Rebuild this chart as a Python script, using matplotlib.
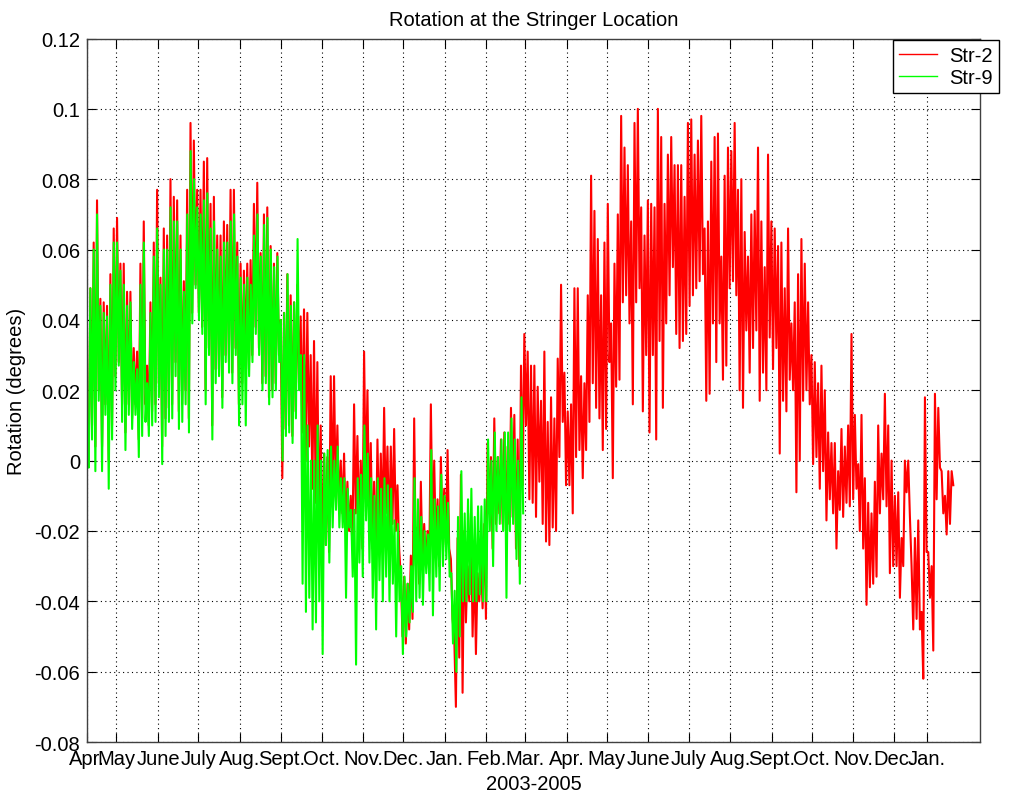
import numpy as np
import matplotlib
matplotlib.use('Agg')
import matplotlib.pyplot as plt

plt.rcParams['font.family'] = ['Liberation Sans', 'DejaVu Sans']

# stringer rotation (deg), logged from 9 Apr 2003; consecutive values are the
# daily high / low swings of the gauge
str2_days = (0.0, 646.5)
str9_days = (0.0, 325.5)

str2 = [
    0.004, 0.000, 0.049, 0.010, 0.062, 0.004, 0.074, 0.020, 0.046, 0.004,
    0.045, 0.016, 0.044, 0.000, 0.053, 0.010, 0.066, 0.024, 0.069, 0.028,
    0.056, 0.016, 0.056, 0.008, 0.048, 0.016, 0.048, 0.012, 0.032, 0.016,
    0.031, 0.006, 0.056, 0.012, 0.068, 0.016, 0.027, 0.010, 0.045, 0.014,
    0.062, 0.016, 0.077, 0.022, 0.052, 0.004, 0.066, 0.012, 0.064, 0.015,
    0.080, 0.016, 0.075, 0.028, 0.074, 0.014, 0.064, 0.016, 0.051, 0.020,
    0.077, 0.012, 0.096, 0.042, 0.091, 0.050, 0.077, 0.042, 0.077, 0.038,
    0.085, 0.020, 0.086, 0.032, 0.073, 0.010, 0.075, 0.026, 0.064, 0.026,
    0.064, 0.018, 0.068, 0.030, 0.067, 0.028, 0.077, 0.025, 0.077, 0.032,
    # Aug - Nov 2003
    0.062, 0.016, 0.056, 0.022, 0.054, 0.030, 0.056, 0.026, 0.057, 0.030,
    0.073, 0.038, 0.079, 0.032, 0.059, 0.022, 0.070, 0.024, 0.072, 0.018,
    0.061, 0.020, 0.056, 0.022, 0.059, 0.030, 0.040, -0.005, 0.042, 0.009,
    0.053, 0.010, 0.047, 0.007, 0.045, 0.014, 0.050, 0.022, 0.041, 0.008,
    0.043, 0.000, 0.042, 0.004, 0.030, -0.008, 0.034, -0.012, 0.028, -0.020,
    0.010, -0.030, 0.002, -0.024, 0.001, -0.026, 0.024, -0.012, 0.024, -0.010,
    0.010, -0.015, 0.000, -0.015, 0.002, -0.020, -0.006, -0.020, -0.010, -0.025,
    0.016, -0.015, 0.007, -0.020, 0.000, -0.025, 0.031, -0.008, 0.020, -0.015,
    0.005, -0.025, -0.006, -0.030, 0.006, -0.020,
    # Nov 2003 - Mar 2004
    0.002, -0.020, 0.015, -0.015, 0.004, -0.022, 0.004, -0.018, 0.009, -0.020,
    -0.007, -0.025, -0.033, -0.050, -0.033, -0.052, -0.035, -0.048, -0.027, -0.045,
    0.012, -0.030, -0.019, -0.035, -0.006, -0.030, -0.018, -0.030, -0.020, -0.032,
    0.016, -0.020, 0.000, -0.025, -0.011, -0.030, 0.001, -0.022, -0.008, -0.024,
    0.003, -0.025, -0.028, -0.045, -0.050, -0.070, -0.022, -0.056, -0.004, -0.066,
    -0.020, -0.046, -0.030, -0.040, -0.015, -0.050, -0.028, -0.055, -0.032, -0.040,
    -0.028, -0.042, -0.018, -0.045, 0.005, -0.015, 0.001, -0.025, 0.012, -0.018,
    0.001, -0.015, 0.006, -0.018, 0.008, -0.020, 0.004, -0.018, 0.015, -0.016,
    0.013, -0.025, 0.006, -0.030, 0.027, -0.007, 0.036, 0.010,
    # Mar - June 2004
    0.031, -0.011, 0.027, -0.012, 0.027, -0.016, 0.021, -0.006, 0.017, -0.018,
    0.031, -0.023, 0.011, -0.024, 0.018, -0.019, 0.012, -0.020, 0.029, 0.001,
    0.050, 0.011, 0.025, -0.007, 0.014, -0.007, 0.016, -0.015, 0.049, 0.001,
    0.049, 0.003, 0.024, -0.005, 0.022, 0.003, 0.047, 0.011, 0.081, 0.022,
    0.071, 0.015, 0.063, 0.012, 0.047, 0.003, 0.062, 0.009, 0.073, 0.028,
    0.039, -0.005, 0.056, 0.021, 0.070, 0.023, 0.098, 0.045, 0.089, 0.047,
    0.084, 0.039, 0.068, 0.016, 0.096, 0.045, 0.100, 0.049, 0.072, 0.014,
    0.064, 0.030, 0.074, 0.008, 0.073, 0.030, 0.072, 0.006, 0.100, 0.034,
    0.092, 0.015, 0.073, 0.039, 0.087, 0.047, 0.092, 0.055, 0.084, 0.036,
    0.084, 0.032,
    # June - Oct 2004
    0.084, 0.034, 0.075, 0.036, 0.096, 0.044, 0.097, 0.047, 0.087, 0.049,
    0.091, 0.051, 0.098, 0.053, 0.066, 0.017, 0.068, 0.019, 0.085, 0.039,
    0.092, 0.028, 0.093, 0.039, 0.058, 0.023, 0.081, 0.027, 0.089, 0.049,
    0.088, 0.051, 0.096, 0.047, 0.077, 0.020, 0.080, 0.015, 0.065, 0.037,
    0.058, 0.025, 0.070, 0.032, 0.071, 0.037, 0.089, 0.017, 0.068, 0.025,
    0.055, 0.020, 0.087, 0.035, 0.068, 0.026, 0.066, 0.032, 0.061, 0.002,
    0.062, 0.017, 0.049, 0.014, 0.066, 0.023, 0.039, 0.020, 0.045, -0.009,
    0.053, 0.000, 0.063, 0.017, 0.056, 0.020, 0.045, 0.016, 0.030, -0.001,
    0.028, 0.001, 0.022, -0.008, 0.027, -0.003, 0.020, -0.017, 0.008, -0.011,
    # Oct 2004 - Jan 2005
    0.005, -0.015, 0.005, -0.025, -0.003, -0.014, 0.009, -0.016, 0.004, -0.012,
    0.010, -0.013, 0.036, -0.011, 0.013, -0.008, -0.001, -0.020, 0.013, -0.025,
    -0.005, -0.041, -0.012, -0.036, -0.015, -0.035, -0.006, -0.033, 0.010, -0.015,
    0.002, -0.011, 0.019, -0.013, 0.010, -0.032, 0.000, -0.030, -0.010, -0.030,
    -0.009, -0.039, -0.022, -0.030, 0.000, -0.009, 0.000, -0.016, -0.030, -0.048,
    -0.022, -0.045, -0.017, -0.048, -0.043, -0.062, 0.018, -0.026, -0.026, -0.039,
    -0.030, -0.054, 0.019, -0.011, 0.015, -0.002, -0.003, -0.015, -0.010, -0.021,
    -0.003, -0.018, -0.003, -0.007,
]

str9 = [
    0.010, -0.002, 0.049, 0.006, 0.060, -0.003, 0.070, 0.017, 0.044, -0.003,
    0.042, 0.013, 0.041, -0.008, 0.050, 0.006, 0.062, 0.020, 0.062, 0.027,
    0.054, 0.011, 0.050, 0.003, 0.044, 0.013, 0.045, 0.009, 0.028, 0.013,
    0.026, 0.001, 0.050, 0.007, 0.062, 0.011, 0.022, 0.007, 0.042, 0.010,
    0.058, 0.011, 0.066, 0.018, 0.050, -0.001, 0.060, 0.007, 0.060, 0.011,
    0.072, 0.012, 0.068, 0.024, 0.068, 0.009, 0.060, 0.011, 0.048, 0.016,
    0.070, 0.008, 0.088, 0.039, 0.080, 0.049, 0.072, 0.040, 0.070, 0.036,
    0.074, 0.016, 0.076, 0.030, 0.066, 0.006, 0.068, 0.022, 0.060, 0.024,
    0.058, 0.015, 0.062, 0.028, 0.062, 0.025, 0.068, 0.022, 0.070, 0.030,
    # Aug - Nov 2003
    0.058, 0.010, 0.052, 0.016, 0.050, 0.010, 0.052, 0.024, 0.050, 0.028,
    0.064, 0.036, 0.070, 0.030, 0.058, 0.020, 0.067, 0.022, 0.069, 0.016,
    0.060, 0.018, 0.055, 0.020, 0.058, 0.028, 0.040, 0.000, 0.042, 0.007,
    0.053, 0.008, 0.044, 0.005, 0.045, 0.012, 0.063, 0.020, 0.030, -0.035,
    0.030, -0.043, 0.010, -0.039, 0.000, -0.048, 0.000, -0.046, 0.010, -0.040,
    0.000, -0.055, 0.002, -0.024, 0.003, -0.029, 0.004, -0.019, 0.000, -0.014,
    0.004, -0.019, -0.005, -0.019, -0.005, -0.039, -0.008, -0.019, -0.014, -0.033,
    -0.014, -0.058, -0.005, -0.029, -0.004, -0.033, 0.010, -0.017, 0.002, -0.029,
    -0.005, -0.039, -0.010, -0.048, -0.005, -0.034,
    # Nov 2003 - Mar 2004
    -0.008, -0.040, -0.005, -0.033, -0.007, -0.040, -0.008, -0.035, -0.017, -0.050,
    -0.018, -0.040, -0.030, -0.055, -0.033, -0.050, -0.035, -0.046, -0.030, -0.043,
    -0.005, -0.040, -0.011, -0.039, -0.016, -0.041, -0.020, -0.032, -0.021, -0.037,
    0.003, -0.044, -0.011, -0.033, -0.013, -0.037, -0.004, -0.030, -0.010, -0.028,
    -0.012, -0.033, -0.032, -0.052, -0.037, -0.060, -0.016, -0.050, -0.003, -0.040,
    -0.015, -0.040, -0.011, -0.038, -0.008, -0.040, -0.016, -0.040, -0.013, -0.038,
    -0.013, -0.040, -0.011, -0.040, 0.006, -0.020, 0.000, -0.030, 0.008, -0.020,
    0.001, -0.018, 0.006, -0.020, 0.008, -0.039, 0.008, -0.020, 0.012, -0.018,
    0.006, -0.028, 0.000, -0.035, 0.018, -0.015,
]

month_days = [0, 22, 53, 83, 114, 145, 175, 206, 236, 267, 298, 327,
              358, 388, 419, 449, 480, 511, 541, 572, 602, 627]
month_labels = ['Apr.', 'May', 'June', 'July', 'Aug.', 'Sept.', 'Oct.', 'Nov.',
                'Dec.', 'Jan.', 'Feb.', 'Mar.', 'Apr.', 'May', 'June', 'July',
                'Aug.', 'Sept.', 'Oct.', 'Nov.', 'Dec.', 'Jan.']
rot_ticks = [-0.08, -0.06, -0.04, -0.02, 0, 0.02, 0.04, 0.06, 0.08, 0.1, 0.12]

t2 = np.linspace(str2_days[0], str2_days[1], len(str2))
t9 = np.linspace(str9_days[0], str9_days[1], len(str9))

fig = plt.figure(figsize=(10.13, 8.03), dpi=100)
ax = fig.add_axes([0.0859, 0.0747, 0.8815, 0.8761])

ax.plot(t2, str2, color='#ff0000', lw=1.5, label='Str-2')
ax.plot(t9, str9, color='#00ff00', lw=1.5, label='Str-9')

ax.set_xlim(0, 666.4)
ax.set_ylim(-0.08, 0.12)
ax.set_xticks(month_days)
ax.set_xticklabels(month_labels)
ax.set_yticks(rot_ticks)
ax.set_yticklabels(['%g' % v for v in rot_ticks])

ax.grid(True, color='black', linestyle=(0, (1, 3)), linewidth=0.8)
ax.tick_params(direction='in', length=6.5, width=0.8, top=True, right=True,
               labelsize=14.5, pad=5, colors='black')
for sp in ax.spines.values():
    sp.set_color('#404040')
    sp.set_linewidth(1.0)

ax.set_title('Rotation at the Stringer Location', fontsize=14.5, pad=10)
ax.set_xlabel('2003-2005', fontsize=14.5, labelpad=4)
ax.set_ylabel('Rotation (degrees)', fontsize=14.5, labelpad=6)

leg = ax.legend(loc='upper left', bbox_to_anchor=(893 / 1013, 1 - 40.7 / 803),
                bbox_transform=fig.transFigure, fontsize=14.5, fancybox=False,
                framealpha=1, edgecolor='black', borderpad=0.3,
                handlelength=1.9, handletextpad=0.6, labelspacing=0.15,
                borderaxespad=0)
leg.get_frame().set_linewidth(1.0)
for line in leg.get_lines():
    line.set_linewidth(1.0)

plt.savefig('out.png', dpi=100)
